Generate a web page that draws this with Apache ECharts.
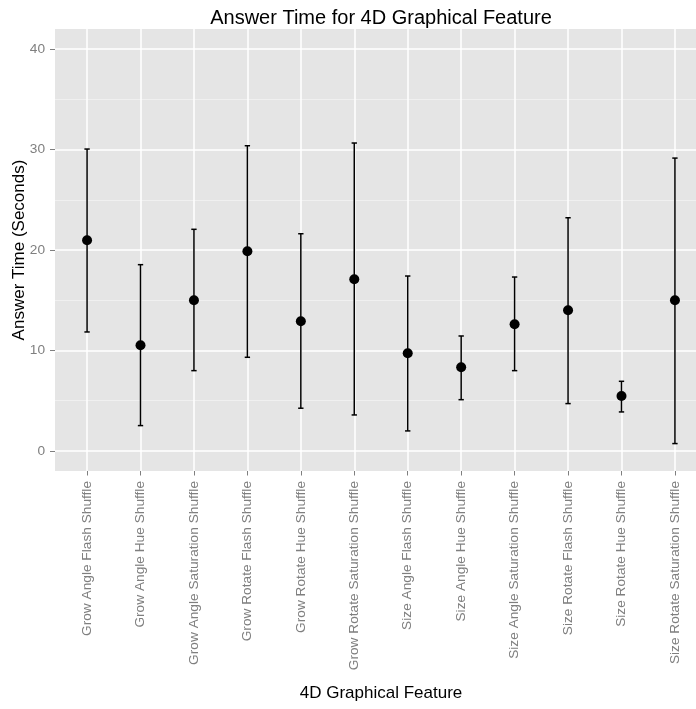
<!DOCTYPE html>
<html>
<head>
<meta charset="utf-8">
<script src="https://cdn.jsdelivr.net/npm/echarts@6/dist/echarts.min.js"></script>
<style>
html,body{margin:0;padding:0;background:#fff;}
#c{width:696px;height:709px;}
</style>
</head>
<body>
<div id="c"></div>
<script>
const categories = [
  "Grow Angle Flash Shuffle", "Grow Angle Hue Shuffle", "Grow Angle Saturation Shuffle",
  "Grow Rotate Flash Shuffle", "Grow Rotate Hue Shuffle", "Grow Rotate Saturation Shuffle",
  "Size Angle Flash Shuffle", "Size Angle Hue Shuffle", "Size Angle Saturation Shuffle",
  "Size Rotate Flash Shuffle", "Size Rotate Hue Shuffle", "Size Rotate Saturation Shuffle"
];
const means = [20.97, 10.51, 14.99, 19.87, 12.9, 17.08, 9.72, 8.33, 12.6, 14.0, 5.47, 14.99];
const lows  = [11.84, 2.52, 7.99, 9.32, 4.25, 3.58, 1.99, 5.1, 7.99, 4.71, 3.88, 0.73];
const highs = [30.05, 18.54, 22.06, 30.38, 21.62, 30.65, 17.41, 11.44, 17.31, 23.21, 6.93, 29.15];
const yMajorTicks = [0, 10, 20, 30, 40];
const yMinorTicks = [5, 15, 25, 35];

const FONT = "'Liberation Sans', Arial, Helvetica, sans-serif";
const idx = categories.map((_, i) => i);

const chart = echarts.init(document.getElementById('c'), null, {renderer: 'canvas'});
chart.setOption({
  animation: false,
  backgroundColor: '#ffffff',
  textStyle: {fontFamily: FONT},
  grid: {
    left: 55, top: 29, width: 652, height: 442,
    show: true, backgroundColor: '#E5E5E5', borderWidth: 0,
    containLabel: false, outerBoundsMode: 'none'
  },
  xAxis: {
    type: 'value', min: -0.6, max: 11.6, position: 'bottom',
    axisLine: {show: false, onZero: false},
    axisTick: {show: true, customValues: idx, length: 4.5, lineStyle: {color: '#7F7F7F', width: 1}},
    axisLabel: {
      show: true, customValues: idx, rotate: 90, margin: 10,
      color: '#7F7F7F', fontSize: 13.7, fontFamily: FONT,
      formatter: v => categories[Math.round(v)]
    },
    splitLine: {show: true, lineStyle: {color: '#FFFFFF', width: 1.5}}
  },
  yAxis: [{
    type: 'value', min: -2, max: 42, position: 'left',
    axisLine: {show: false, onZero: false},
    axisTick: {show: true, customValues: yMajorTicks, length: 5, lineStyle: {color: '#7F7F7F', width: 1}},
    axisLabel: {show: true, customValues: yMajorTicks, margin: 10, color: '#7F7F7F', fontSize: 13.7, fontFamily: FONT},
    splitLine: {show: true, lineStyle: {color: '#FFFFFF', width: 1.5}},
    z: 1
  }, {
    type: 'value', min: -2, max: 42, position: 'left',
    axisLine: {show: false, onZero: false},
    axisTick: {show: false, customValues: yMinorTicks},
    axisLabel: {show: false, customValues: yMinorTicks},
    splitLine: {show: true, lineStyle: {color: '#F2F2F2', width: 0.8}},
    z: 0
  }],
  graphic: [
    {type: 'text', x: 381, y: 18.5, z: 100,
     style: {text: 'Answer Time for 4D Graphical Feature', font: '20px ' + FONT, fill: '#000', textAlign: 'center', textVerticalAlign: 'middle'}},
    {type: 'text', x: 381, y: 693, z: 100,
     style: {text: '4D Graphical Feature', font: '17px ' + FONT, fill: '#000', textAlign: 'center', textVerticalAlign: 'middle'}},
    {type: 'text', x: 19, y: 250, rotation: Math.PI / 2, z: 100,
     style: {text: 'Answer Time (Seconds)', font: '17px ' + FONT, fill: '#000', textAlign: 'center', textVerticalAlign: 'middle'}}
  ],
  series: [{
    type: 'custom',
    yAxisIndex: 0,
    data: idx.map(i => [i, lows[i], highs[i]]),
    renderItem: function (params, api) {
      const x = api.value(0);
      const lo = api.coord([x, api.value(1)]);
      const hi = api.coord([x, api.value(2)]);
      const hw = api.size([0.1, 0])[0] / 2;
      const st = {stroke: '#000', lineWidth: 1.5};
      return {type: 'group', children: [
        {type: 'line', shape: {x1: lo[0], y1: lo[1], x2: hi[0], y2: hi[1]}, style: st},
        {type: 'line', shape: {x1: hi[0] - hw, y1: hi[1], x2: hi[0] + hw, y2: hi[1]}, style: st},
        {type: 'line', shape: {x1: lo[0] - hw, y1: lo[1], x2: lo[0] + hw, y2: lo[1]}, style: st}
      ]};
    },
    z: 3
  }, {
    type: 'scatter',
    yAxisIndex: 0,
    data: idx.map(i => [i, means[i]]),
    symbol: 'circle', symbolSize: 10,
    itemStyle: {color: '#000', opacity: 1},
    z: 4
  }]
});
</script>
</body>
</html>
